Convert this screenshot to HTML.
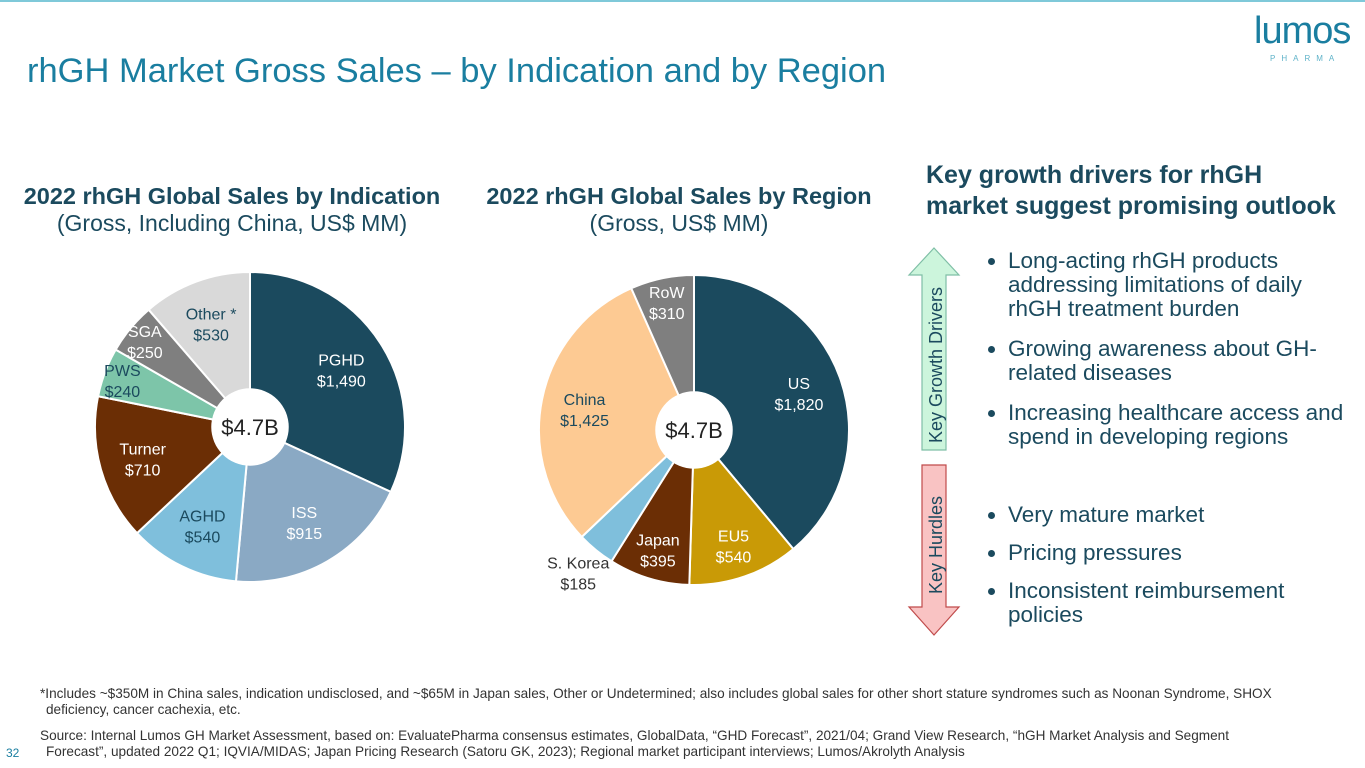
<!DOCTYPE html>
<html><head><meta charset="utf-8"><style>
body{margin:0;width:1365px;height:768px;background:#fff;font-family:"Liberation Sans",Arial,sans-serif;position:relative;overflow:hidden}
.a{position:absolute}
.h{color:#1b4a5e;font-weight:bold;font-size:23.5px;text-align:center;line-height:27px}
.h span{font-weight:normal;font-size:23px}
.b{color:#1b4a5e;font-size:22.5px;line-height:24px}
.b li{margin-bottom:16px}
ul{margin:0;padding-left:28px}
</style></head><body>
<div class="a" style="left:0;top:0;width:1365px;height:2px;background:#7fc9d9"></div>
<div class="a" style="left:27px;top:52px;font-size:34.5px;color:#1a7ea0">rhGH Market Gross Sales – by Indication and by Region</div>
<div class="a" style="left:1254px;top:10px;color:#1a7ea0;font-size:38px;letter-spacing:-1px">lumos</div>
<div class="a" style="left:1270px;top:54px;color:#5fb3c9;font-size:8px;letter-spacing:6px">PHARMA</div>
<div class="a h" style="left:0;top:183px;width:464px">2022 rhGH Global Sales by Indication<br><span>(Gross, Including China, US$ MM)</span></div>
<div class="a h" style="left:470px;top:183px;width:418px">2022 rhGH Global Sales by Region<br><span>(Gross, US$ MM)</span></div>
<svg class="a" style="left:0;top:0" width="1365" height="768" id="charts"></svg>
<div class="a h" style="left:926px;top:160px;text-align:left;font-size:25px;line-height:31px">Key growth drivers for rhGH<br>market suggest promising outlook</div>
<svg class="a" style="left:905px;top:245px" width="60" height="395">
<polygon points="29,3 54,30 41,30 41,205 17,205 17,30 4,30" fill="#ccf5dc" stroke="#7fbfa6" stroke-width="1.2"/>
<polygon points="17,220 41,220 41,362 54,362 29,390 4,362 17,362" fill="#f9c3c3" stroke="#c04b4b" stroke-width="1.2"/>
<text transform="translate(37,120) rotate(-90)" text-anchor="middle" font-size="18" fill="#1b4a5e" font-family="Liberation Sans">Key Growth Drivers</text>
<text transform="translate(37,300) rotate(-90)" text-anchor="middle" font-size="18" fill="#1b4a5e" font-family="Liberation Sans">Key Hurdles</text>
</svg>
<div class="a b" style="left:980px;top:249px;width:368px"><ul>
<li>Long-acting rhGH products addressing limitations of daily rhGH treatment burden</li>
<li>Growing awareness about GH-related diseases</li>
<li>Increasing healthcare access and spend in developing regions</li></ul></div>
<div class="a b" style="left:980px;top:503px;width:340px"><ul>
<li style="margin-bottom:14px">Very mature market</li><li style="margin-bottom:14px">Pricing pressures</li><li>Inconsistent reimbursement policies</li></ul></div>
<div class="a" style="left:40px;top:686px;width:1278px;font-size:13.6px;color:#333;line-height:16px;text-indent:-6px;padding-left:6px">*Includes ~$350M in China sales, indication undisclosed, and ~$65M in Japan sales, Other or Undetermined; also includes global sales for other short stature syndromes such as Noonan Syndrome, SHOX deficiency, cancer cachexia, etc.</div>
<div class="a" style="left:40px;top:728px;width:1245px;font-size:13.6px;color:#333;line-height:16px;text-indent:-6px;padding-left:6px">Source: Internal Lumos GH Market Assessment, based on: EvaluatePharma consensus estimates, GlobalData, “GHD Forecast”, 2021/04; Grand View Research, “hGH Market Analysis and Segment Forecast”, updated 2022 Q1; IQVIA/MIDAS; Japan Pricing Research (Satoru GK, 2023); Regional market participant interviews; Lumos/Akrolyth Analysis</div>
<div class="a" style="left:6px;top:746px;font-size:12px;color:#1a7ea0">32</div>
<script>
const indCats=["PGHD","ISS","AGHD","Turner","PWS","SGA","Other *"];
const indVals=[1490,915,540,710,240,250,530];
const indColors=["#1b4a5e","#8aa9c4","#7fbfdc","#6b2e05","#7dc5a9","#7f7f7f","#d9d9d9"];
const indText=["#fff","#fff","#1b4a5e","#fff","#1b4a5e","#fff","#1b4a5e"];
const regCats=["US","EU5","Japan","S. Korea","China","RoW"];
const regVals=[1820,540,395,185,1425,310];
const regColors=["#1b4a5e","#c99a06","#6b2e05","#7fbfdc","#fdca93","#7f7f7f"];
const regText=["#fff","#fff","#fff","#333","#1b4a5e","#fff"];
const svg=document.getElementById('charts');
const NS='http://www.w3.org/2000/svg';
function pie(cx,cy,r,cats,vals,cols,tcols,name,lr,outside){
  const tot=vals.reduce((a,b)=>a+b,0);let a0=-Math.PI/2;
  vals.forEach((v,i)=>{
    const a1=a0+v/tot*2*Math.PI;
    const x0=cx+r*Math.cos(a0),y0=cy+r*Math.sin(a0),x1=cx+r*Math.cos(a1),y1=cy+r*Math.sin(a1);
    const p=document.createElementNS(NS,'path');
    p.setAttribute('d',`M${cx},${cy}L${x0},${y0}A${r},${r} 0 ${a1-a0>Math.PI?1:0} 1 ${x1},${y1}Z`);
    p.setAttribute('fill',cols[i]);p.setAttribute('stroke','#fff');p.setAttribute('stroke-width','2');
    
    
    svg.appendChild(p);
    const m=(a0+a1)/2;const rr=(outside.includes(i)?1.18:lr[i]||0.68)*r;
    const lx=cx+rr*Math.cos(m),ly=cy+rr*Math.sin(m);
    const t=document.createElementNS(NS,'text');
    t.setAttribute('x',lx);t.setAttribute('y',ly-3);t.setAttribute('text-anchor','middle');
    t.setAttribute('font-size','16');t.setAttribute('font-family','Liberation Sans');
    t.setAttribute('fill',outside.includes(i)?'#333':tcols[i]);
    
    
    const s1=document.createElementNS(NS,'tspan');s1.setAttribute('x',lx);s1.textContent=cats[i];
    const s2=document.createElementNS(NS,'tspan');s2.setAttribute('x',lx);s2.setAttribute('dy','21');s2.textContent='$'+vals[i].toLocaleString('en-US');
    t.appendChild(s1);t.appendChild(s2);svg.appendChild(t);
    a0=a1;
  });
  const c=document.createElementNS(NS,'circle');c.setAttribute('cx',cx);c.setAttribute('cy',cy);c.setAttribute('r',r*0.25);c.setAttribute('fill','#fff');
  
  
  svg.appendChild(c);
  const t=document.createElementNS(NS,'text');t.setAttribute('x',cx);t.setAttribute('y',cy+8);t.setAttribute('text-anchor','middle');t.setAttribute('font-size','22');t.setAttribute('font-family','Liberation Sans');t.setAttribute('fill','#222');t.textContent='$'+(vals.reduce((a,b)=>a+b,0)/1000).toFixed(1)+'B';
  
  
  svg.appendChild(t);
}
pie(250,427,155,indCats,indVals,indColors,indText,'indication',[0.7,0.7,0.7,0.72,0.88,0.88,0.72],[]);
pie(694,430,155,regCats,regVals,regColors,regText,'region',[0.72,0.78,0.8,1,0.72,0.85],[3]);
</script>
</body></html>
